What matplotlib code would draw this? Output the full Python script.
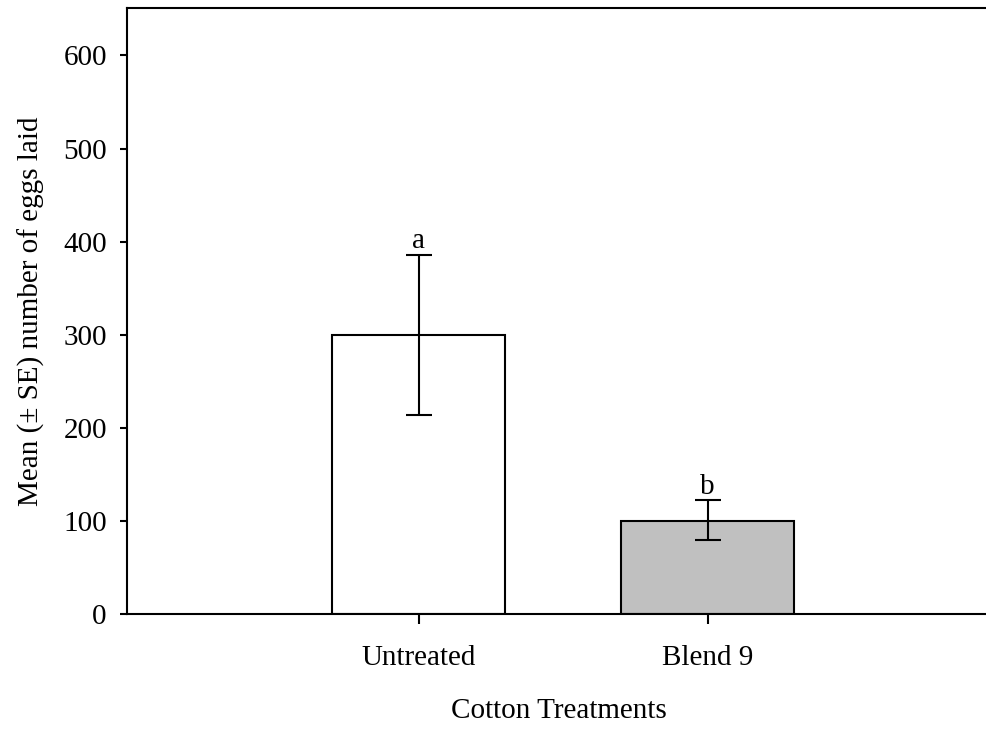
import matplotlib
matplotlib.use("Agg")
import matplotlib.pyplot as plt

categories = ["Untreated", "Blend 9"]
means = [300, 100]
upper_err = [86, 22]
lower_err = [86, 21]
letters = ["a", "b"]
bar_colors = ["white", "#c0c0c0"]
yticks = [0, 100, 200, 300, 400, 500, 600]

plt.rcParams['font.family'] = ['Liberation Serif', 'DejaVu Serif']
FS = 21

W, H = 987, 731
fig = plt.figure(figsize=(W / 100, H / 100), dpi=100)
left, bottom, top = 127, 614, 8
ax = fig.add_axes([left / W, (H - bottom) / H, 864 / W, (bottom - top) / H])

pos = [1, 2]
ax.bar(pos, means, width=0.6, color=bar_colors, edgecolor="black", linewidth=1.5, zorder=2)
ax.errorbar(pos, means, yerr=[lower_err, upper_err], fmt="none", ecolor="black",
            elinewidth=1.5, capsize=9.5, capthick=1.5, zorder=3)
for p, m, e, t in zip(pos, means, upper_err, letters):
    ax.text(p, m + e + 1, t, ha="center", va="bottom", fontsize=FS)

ax.set_xlim(-0.009, 2.98)
ax.set_ylim(0, 651)
ax.set_xticks(pos)
ax.set_xticklabels(categories, fontsize=FS)
ax.set_yticks(yticks)
ax.set_yticklabels([str(v) for v in yticks], fontsize=FS)
ax.tick_params(axis="both", direction="out", width=1.5, colors="black")
ax.tick_params(axis="x", length=7.5, pad=14.5)
ax.tick_params(axis="y", length=5, pad=9.5)
for s in ["left", "bottom", "top"]:
    ax.spines[s].set_linewidth(1.5)
ax.spines["right"].set_visible(False)

ax.set_xlabel("Cotton Treatments", fontsize=FS, labelpad=19.5)
ax.set_ylabel("Mean (\u00b1 SE) number of eggs laid", fontsize=FS, labelpad=13)

fig.savefig("out.png", dpi=100)
